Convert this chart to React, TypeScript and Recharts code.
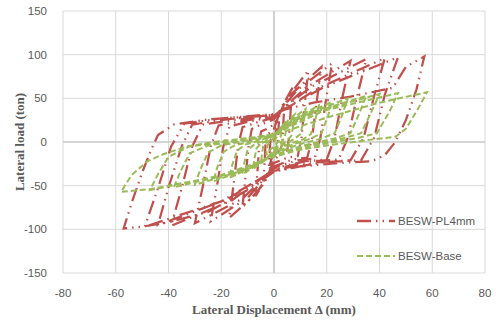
import React from 'react';
import { LineChart, Line, XAxis, YAxis, CartesianGrid, ReferenceLine, Legend } from 'recharts';

// hysteresis loops as [displacement mm, load ton]
const pl4mmLoops: [number, number][] = [
  [0, 0], [1, 16], [2, 30], [1.7, 15], [1.4, 0], [0.8, -8], [0, -12], [-1, -20], [-2, -30], [-1.7, -15], [-1.4, 0], [-0.8, 8], [0, 12],
  [1.5, 28], [4, 45], [3.6, 25], [3.2, 2], [2.6, -8], [1.5, -11], [0, -15], [-1.6, -30], [-4, -45], [-3.6, -25], [-3.2, -2], [-2.6, 8], [-1.5, 11], [0, 15],
  [2.5, 38], [7, 62], [6.3, 35], [5.6, 3], [4.9, -12], [2.8, -14], [0, -20], [-2.8, -42], [-7, -62], [-6.3, -35], [-5.6, -3], [-4.9, 12], [-2.8, 15], [0, 20],
  [5, 50], [13, 82], [11.7, 45], [10.4, 4], [9, -16], [5, -18], [0, -24], [-5, -52], [-12, -75], [-10.8, -40], [-9.6, -4], [-8.4, 15], [-5, 20], [0, 26],
  [7, 56], [18, 86], [16.2, 47], [14.4, 4], [12.6, -18], [7, -20], [0, -28], [-7, -60], [-17, -87], [-15.3, -48], [-13.6, -4], [-11.9, 17], [-7, 22], [0, 28],
  [9, 60], [22, 90], [19.8, 50], [17.6, 5], [15.4, -19], [9, -21], [0, -29], [-10, -64], [-24, -91], [-21.6, -50], [-19.2, -5], [-16.8, 18], [-10, 23], [0, 29],
  [12, 62], [29, 93], [26, 52], [23, 5], [20, -20], [12, -22], [0, -30], [-12, -65], [-30, -93], [-27, -51], [-24, -5], [-21, 19], [-12, 24], [0, 30],
  [14, 63], [35, 95], [31.5, 52], [28, 5], [24.5, -20], [14, -22], [0, -31], [-16, -67], [-39, -96], [-35, -53], [-31, -5], [-27, 20], [-16, 25], [0, 30],
  [17, 62], [42, 96], [38, 53], [34, 5], [29, -21], [17, -23], [0, -32], [-18, -66], [-44, -95], [-40, -52], [-35, -5], [-31, 20], [-18, 26], [0, 31],
  [19, 63], [47, 97], [42, 54], [38, 5], [33, -21], [19, -23], [0, -33], [-20, -68], [-49, -97], [-44, -53], [-39, -5], [-34, 21], [-20, 27], [0, 32],
  [5, 38], [15, 45], [29, 52], [45, 62], [50, 86], [57, 98], [54, 60], [50, 25], [46, 0], [42, -15], [37, -22], [25, -24], [10, -28], [0, -34],
  [-10, -55], [-25, -80], [-40, -92], [-50, -97], [-57, -99], [-54, -70], [-50, -35], [-47, -12], [-44, 8], [-38, 20], [-25, 26], [-10, 29], [0, 31],
];

const baseLoops: [number, number][] = [
  [0, 0], [1.5, 8], [3, 15], [2.7, 9], [2.3, 3], [1.5, 0], [0, -5], [-1.5, -9], [-3, -15], [-2.7, -9], [-2.3, -3], [-1.5, 0], [0, 5],
  [2, 14], [5, 25], [4.6, 15], [4.1, 5], [3, 1], [1.5, -3], [0, -8], [-2, -16], [-5, -24], [-4.6, -15], [-4.1, -5], [-3, -1], [-1.5, 2], [0, 7],
  [3, 18], [8, 32], [7.4, 20], [6.6, 7], [5, 2], [2.5, -3], [0, -10], [-3, -20], [-8, -31], [-7.4, -19], [-6.6, -7], [-5, -2], [-2.5, 2], [0, 8],
  [5, 22], [12, 38], [11.2, 24], [10, 9], [7.5, 3], [3.5, -3], [0, -11], [-5, -24], [-12, -37], [-11.2, -23], [-10, -9], [-7.5, -3], [-3.5, 2], [0, 9],
  [7, 25], [17, 42], [15.8, 27], [14, 9], [11, 3], [5, -3], [0, -12], [-7, -27], [-17, -41], [-15.8, -26], [-14, -10], [-11, -3], [-5, 2], [0, 9],
  [9, 28], [22, 46], [20.5, 30], [18, 10], [14, 4], [7, -3], [0, -13], [-9, -30], [-23, -45], [-21.5, -29], [-19, -11], [-15, -4], [-7, 2], [0, 9],
  [11, 30], [28, 50], [26, 32], [23, 10], [18, 4], [9, -3], [0, -14], [-12, -33], [-30, -49], [-28, -32], [-25, -12], [-20, -4], [-10, 2], [0, 9],
  [14, 33], [35, 53], [32.5, 34], [29, 10], [23, 4], [11, -4], [0, -15], [-15, -35], [-38, -52], [-35.5, -34], [-32, -13], [-25, -4], [-12, 2], [0, 9],
  [16, 35], [40, 55], [37, 35], [33, 10], [26, 4], [13, -4], [0, -16], [-18, -37], [-47, -55], [-44, -37], [-40, -17], [-32, -5], [-16, 1], [0, 9],
  [19, 36], [47, 56], [44, 36], [39, 10], [31, 4], [15, -4], [0, -17], [-22, -40], [-40, -50], [-47, -54], [-58, -57],
  [-54, -38], [-48, -22], [-42, -14], [-33, -5], [-23, 0], [0, 8], [20, 28], [40, 45], [58, 57],
  [55, 40], [50, 15], [46, 6], [35, 2], [20, -4], [8, -10],
];

const xTicks = [-80, -60, -40, -20, 0, 20, 40, 60, 80];
const yTicks = [-150, -100, -50, 0, 50, 100, 150];

const toPoints = (loops: [number, number][]) => loops.map(([x, y]) => ({ x, y }));

const tickFont = { fontFamily: '"Liberation Sans", Arial, sans-serif', fontSize: 11.5, fill: '#595959' };
const titleFont = { fontFamily: '"Liberation Serif", "Times New Roman", serif', fontSize: 13, fontWeight: 700, fill: '#595959' };

const RED = '#C0504D';
const GREEN = '#9BBB59';
const RED_DASH = '14 5 1.5 5 1.5 5';
const GREEN_DASH = '6 3';

const renderLegend = () => (
  <div style={{ fontFamily: tickFont.fontFamily, fontSize: 11.5, color: '#595959', whiteSpace: 'nowrap' }}>
    {[
      { name: 'BESW-PL4mm', color: RED, dash: RED_DASH, w: 2.5 },
      { name: 'BESW-Base', color: GREEN, dash: GREEN_DASH, w: 2 },
    ].map((item) => (
      <div key={item.name} style={{ display: 'flex', alignItems: 'center', height: 35 }}>
        <svg width={40} height={10}>
          <line x1={0} y1={5} x2={38} y2={5} stroke={item.color} strokeWidth={item.w} strokeDasharray={item.dash} />
        </svg>
        <span style={{ marginLeft: 1 }}>{item.name}</span>
      </div>
    ))}
  </div>
);

export default function App() {
  return (
    <div style={{ position: 'absolute', left: 0, top: 0, width: 496, height: 323, background: '#fff' }}>
      <LineChart width={496} height={323} margin={{ top: 11, right: 11, bottom: 0, left: 0 }}>
        <CartesianGrid stroke="#d9d9d9" strokeWidth={1} />
        <XAxis
          type="number"
          dataKey="x"
          domain={[-80, 80]}
          ticks={xTicks}
          axisLine={false}
          tickLine={false}
          tick={tickFont}
          tickMargin={10}
          height={50}
          label={{ value: 'Lateral Displacement Δ (mm)', position: 'insideBottom', offset: 9, style: titleFont }}
        />
        <YAxis
          type="number"
          domain={[-150, 150]}
          ticks={yTicks}
          axisLine={false}
          tickLine={false}
          tick={tickFont}
          tickMargin={10}
          width={63}
          label={{ value: 'Lateral load (ton)', angle: -90, position: 'insideLeft', offset: 19, style: { ...titleFont, textAnchor: 'middle' } }}
        />
        <ReferenceLine x={0} stroke="#bfbfbf" strokeWidth={1.2} />
        <ReferenceLine y={0} stroke="#bfbfbf" strokeWidth={1.2} />
        <Legend
          content={renderLegend}
          layout="vertical"
          align="center"
          verticalAlign="middle"
          wrapperStyle={{ position: 'absolute', left: 357, top: 203, width: 130 }}
        />
        <Line
          data={toPoints(pl4mmLoops)}
          dataKey="y"
          name="BESW-PL4mm"
          type="linear"
          stroke={RED}
          strokeWidth={2.25}
          strokeDasharray={RED_DASH}
          dot={false}
          isAnimationActive={false}
        />
        <Line
          data={toPoints(baseLoops)}
          dataKey="y"
          name="BESW-Base"
          type="linear"
          stroke={GREEN}
          strokeWidth={2}
          strokeDasharray={GREEN_DASH}
          dot={false}
          isAnimationActive={false}
        />
      </LineChart>
    </div>
  );
}
